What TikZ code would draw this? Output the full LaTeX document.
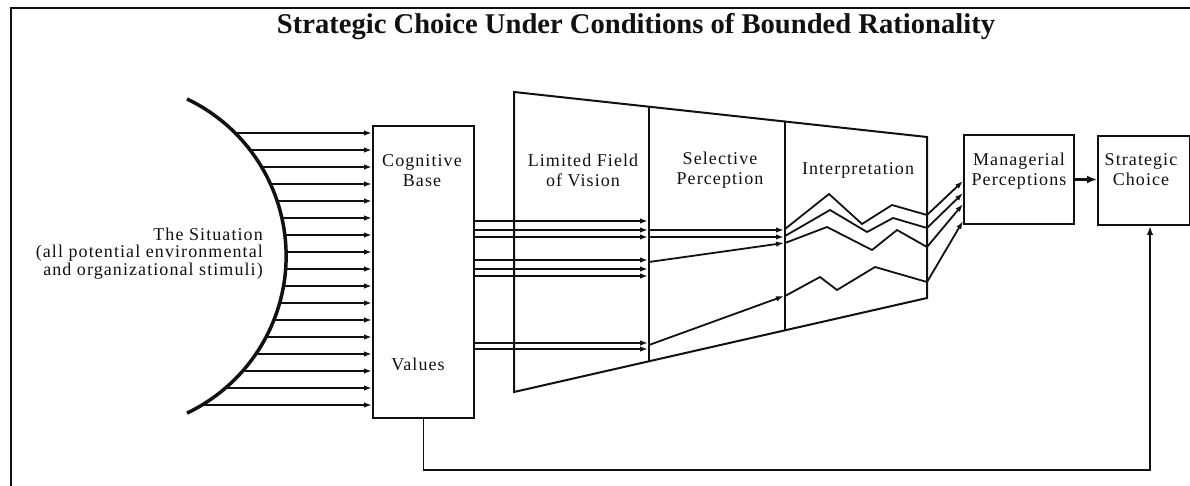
\documentclass[tikz,border=0pt]{standalone}
\usepackage{fontspec}
\setmainfont{Liberation Serif}
\newfontfamily\labelfont{Liberation Serif}[LetterSpace=6]
\usetikzlibrary{arrows.meta,positioning}
\definecolor{choiceInk}{HTML}{111111}
\tikzset{
  every picture/.style={font=\labelfont\fontsize{18}{20}\selectfont, text=choiceInk},
  choice box/.style={draw=choiceInk, line width=2pt, inner sep=0pt,
    anchor=north west},
  choice label/.style={align=center, anchor=base, inner sep=0pt},
  choice line/.style={draw=choiceInk, line width=1.8pt},
  choice arrow/.style={-{Latex[length=8pt,width=5.5pt]},
    draw=choiceInk, line width=1.8pt},
  choice big arrow/.style={-{Latex[length=10pt,width=8pt]},
    draw=choiceInk, line width=2.2pt},
  choice frame/.style={draw=choiceInk, line width=2pt}
}

\begin{document}
\begin{tikzpicture}[x=1pt,y=-1pt]
  \useasboundingbox (0,0) rectangle (1190,486);
  \draw[choice frame] (11,486) -- (11,8) -- (1190,8);
  \node[font=\normalfont\bfseries\fontsize{28.6}{30}\selectfont, anchor=base]
    (title) at (636,34) {Strategic Choice Under Conditions of Bounded Rationality};

  % the situation
  \draw[choice line, line width=3.5pt] (187,99) arc[start angle=-64.5, end angle=64.5, radius=174];
  \node[align=right, anchor=base east, inner sep=0pt,
    font=\labelfont\fontsize{18}{17.5}\selectfont] (situation) at (263,275)
    {The Situation\\(all potential environmental\\and organizational stimuli)};

  % cognitive base and values
  \node[choice box, minimum width=101pt, minimum height=292pt] (cog) at (372,125) {};
  \node[choice label] (cogtext) at (422,187) {Cognitive\\Base};
  \node[choice label] (values) at (418,370) {Values};

  \foreach \y in {133,150,...,405} {
    \pgfmathsetmacro\ax{112+10*sqrt(17.4*17.4-((\y-256)/10)^2)}
    \draw[choice arrow] (\ax,\y) -- (cog.west |- 0,\y);
  }

  % funnel
  \coordinate (ftl) at (514,92);
  \coordinate (fbl) at (514,392);
  \coordinate (ftr) at (927,137);
  \coordinate (fbr) at (927,298);
  \coordinate (d1t) at (649,106.7);
  \coordinate (d1b) at (649,361.3);
  \coordinate (d2t) at (785,121.5);
  \coordinate (d2b) at (785,330.3);
  \draw[choice line, line width=2pt] (ftl) -- (ftr) -- (fbr) -- (fbl) -- cycle;
  \draw[choice line] (d1t) -- (d1b);
  \draw[choice line] (d2t) -- (d2b);
  \node[choice label] (field) at (583,187) {Limited Field\\of Vision};
  \node[choice label] (selective) at (720,185) {Selective\\Perception};
  \node[choice label] (interp) at (858,175) {Interpretation};

  \foreach \y in {221,230,237,260,269,276,343,349}
    \draw[choice arrow] (cog.east |- 0,\y) -- (648,\y);
  \draw[choice arrow] (649,230) -- (784,230);
  \draw[choice arrow] (649,237) -- (784,237);
  \draw[choice arrow] (649,262) -- (784,243);
  \draw[choice arrow] (649,345) -- (784,296);

  % managerial perceptions and strategic choice
  \node[choice box, minimum width=110pt, minimum height=89pt] (mp) at (963,134) {};
  \node[choice label] (mptext) at (1019,186) {Managerial\\Perceptions};
  \node[choice box, minimum width=92pt, minimum height=89pt] (sc) at (1097,135) {};
  \node[choice label] (sctext) at (1141,186) {Strategic\\Choice};

  % interpretation
  \draw[choice arrow] (785,229) -- (829,194) -- (862,224) -- (892,205) -- (927,215) -- (mp.west |- 0,181);
  \draw[choice arrow] (785,236) -- (830,210) -- (867,232) -- (893,218) -- (927,228) -- (mp.west |- 0,193);
  \draw[choice arrow] (785,243) -- (827,227) -- (872,250) -- (897,230) -- (927,247) -- (mp.west |- 0,204);
  \draw[choice arrow] (785,296) -- (820,277) -- (837,290) -- (875,267) -- (927,282) -- (mp.west |- 0,221);

  \draw[choice big arrow] (mp.east) -- (mp.east -| sc.west);
  \coordinate (fb) at (0,470);
  \draw[choice arrow, -{Latex[length=9pt,width=6.5pt]}] (cog.south) -- (cog.south |- fb) -| ([xshift=6pt]sc.south);
\end{tikzpicture}
\end{document}
